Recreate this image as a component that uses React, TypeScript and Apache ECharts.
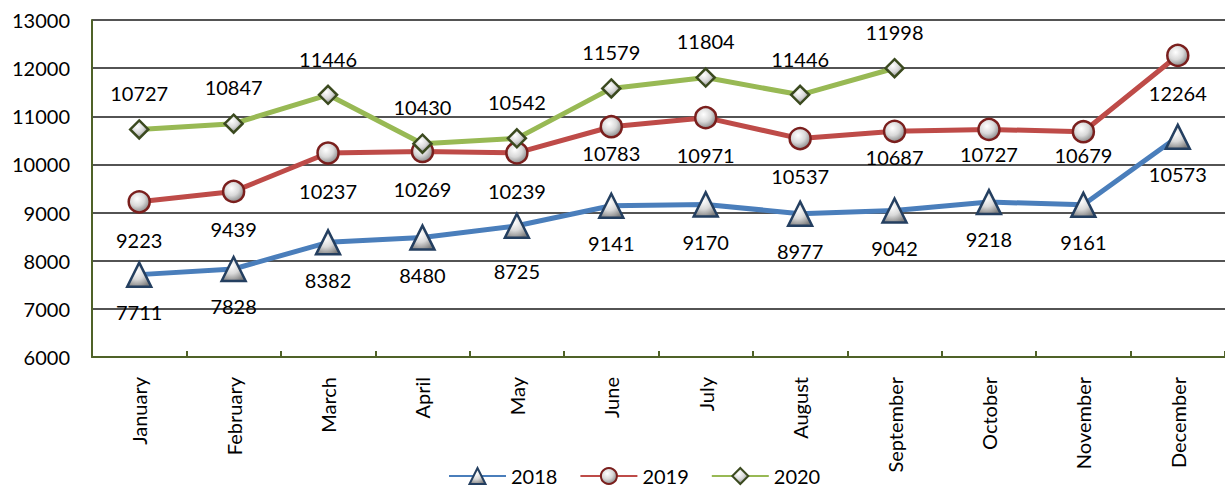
import React, { useEffect, useRef } from "react";
import * as echarts from "echarts";

const months = ["January","February","March","April","May","June","July","August","September","October","November","December"];
const s2018 = [7711, 7828, 8382, 8480, 8725, 9141, 9170, 8977, 9042, 9218, 9161, 10573];
const s2019 = [9223, 9439, 10237, 10269, 10239, 10783, 10971, 10537, 10687, 10727, 10679, 12264];
const s2020 = [10727, 10847, 11446, 10430, 10542, 11579, 11804, 11446, 11998, null, null, null];

// vertical label nudges (px) seen in the reference
const shift2018 = [0, 0, 0, 0, 8, 0, 0, 0, 0, 0, 0, 0];
const shift2019 = [0, 0, 0, 0, 0, -11, 0, 0, -12, -13, -14, 0];
const shift2020 = [0, 0, 0, 0, 0, 0, 0, 0, 0, 0, 0, 0];

const FONT = "Lato";

function markerFill() {
  return new echarts.graphic.RadialGradient(0.4, 0.35, 0.7, [
    { offset: 0, color: "#ffffff" },
    { offset: 0.5, color: "#d9d9d9" },
    { offset: 1, color: "#7f7f7f" },
  ]);
}

export default function App() {
  const ref = useRef<HTMLDivElement>(null);
  useEffect(() => {
    document.body.style.margin = "0";
    const chart = echarts.init(ref.current!, null, { renderer: "svg" });
    const mk = (name: string, vals: any[], shifts: number[], color: string, border: string, symbol: string, size: number, pos: string, dist: number) => ({
      name,
      type: "line",
      data: vals.map((v, i) => (v == null ? null : { value: v, label: { offset: [0, shifts[i]] } })),
      symbol,
      symbolSize: size,
      showAllSymbol: true,
      lineStyle: { color, width: 5 },
      itemStyle: { color: markerFill(), borderColor: border, borderWidth: 2.5 },
      label: {
        show: true,
        position: pos,
        distance: dist,
        fontFamily: FONT,
        fontSize: 20,
        color: "#000",
      },
      z: 3,
    });
    chart.setOption({
      animation: false,
      grid: { left: 92, top: 20, width: 1142, height: 337 },
      xAxis: {
        type: "category",
        data: months,
        boundaryGap: true,
        axisLine: { lineStyle: { color: "#4F6228", width: 2 } },
        axisTick: { show: true, inside: true, length: 6, lineStyle: { color: "#4F6228", width: 2 } },
        axisLabel: { rotate: 90, fontFamily: FONT, fontSize: 20, color: "#000", margin: 20 },
        splitLine: { show: false },
      },
      yAxis: {
        type: "value",
        min: 6000,
        max: 13000,
        interval: 1000,
        axisLine: { show: true, lineStyle: { color: "#4F6228", width: 2 } },
        axisTick: { show: false },
        axisLabel: { fontFamily: FONT, fontSize: 20, color: "#000", margin: 22, formatter: (v: number) => String(v) },
        splitLine: { show: true, lineStyle: { color: "#1a1a1a", width: 1.5 } },
      },
      legend: {
        top: 466,
        left: 448,
        padding: 0,
        itemWidth: 57,
        itemHeight: 20,
        itemGap: 22,
        textStyle: { fontFamily: FONT, fontSize: 20, color: "#000" },
        data: ["2018", "2019", "2020"],
      },
      series: [
        mk("2018", s2018, shift2018, "#4A7EBB", "#243F60", "triangle", 24, "bottom", 14),
        mk("2019", s2019, shift2019, "#BE4B48", "#7A1F1D", "circle", 21, "bottom", 16),
        mk("2020", s2020, shift2020, "#98B954", "#3B4A1F", "diamond", 18, "top", 16),
      ],
    });
    return () => chart.dispose();
  }, []);
  return <div ref={ref} style={{ width: 1225, height: 490 }} />;
}
